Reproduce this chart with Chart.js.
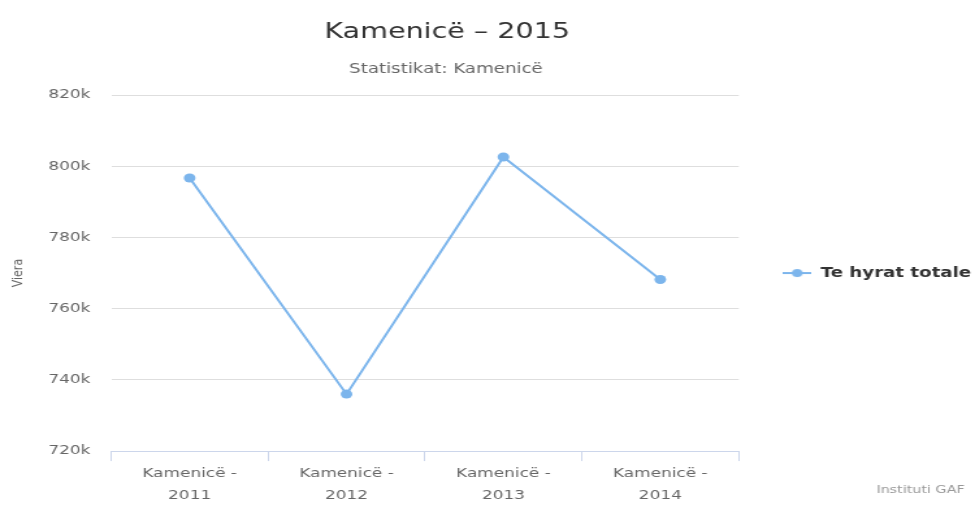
<!DOCTYPE html>
<html>
<head>
<meta charset="utf-8">
<title>Kamenicë – 2015</title>
<script src="https://cdn.jsdelivr.net/npm/chart.js@4/dist/chart.umd.min.js"></script>
<style>
  html, body { margin: 0; padding: 0; background: #fff; overflow: hidden; }
  /* the reference is stretched sideways, so draw narrow and scale out */
  #wrap { width: 749px; height: 518px; transform: scaleX(1.3); transform-origin: 0 0; }
</style>
</head>
<body>
<div id="wrap"><canvas id="chart" width="749" height="518"></canvas></div>
<script>
  // Data
  const categories = [["Kamenicë -", "2011"], ["Kamenicë -", "2012"], ["Kamenicë -", "2013"], ["Kamenicë -", "2014"]];
  const totalIncome = [796700, 736000, 802600, 768200];
  const yTicks = [720000, 740000, 760000, 780000, 800000, 820000];

  const seriesName = "Te hyrat totale";
  const chartTitle = "Kamenicë – 2015";
  const chartSubtitle = "Statistikat: Kamenicë";
  const creditText = "Instituti GAF";

  const FONT = '"DejaVu Sans", "Lucida Grande", Arial, sans-serif';
  const blue = "#7cb5ec";

  // legend symbol: short line with a dot, like Highcharts
  function legendSymbol() {
    const c = document.createElement("canvas");
    c.width = 22; c.height = 12;
    const g = c.getContext("2d");
    g.strokeStyle = blue; g.lineWidth = 2;
    g.beginPath(); g.moveTo(0, 6); g.lineTo(22, 6); g.stroke();
    g.fillStyle = blue;
    g.beginPath(); g.arc(11, 6, 4, 0, Math.PI * 2); g.fill();
    return c;
  }

  // titles and credits drawn at fixed spots
  const headerPlugin = {
    id: "header",
    afterDraw(chart) {
      const ctx = chart.ctx;
      ctx.save();
      ctx.textAlign = "center";
      ctx.textBaseline = "alphabetic";
      ctx.fillStyle = "#333333";
      ctx.font = "22px " + FONT;
      ctx.fillText(chartTitle, 344, 38);
      ctx.fillStyle = "#666666";
      ctx.font = "14px " + FONT;
      ctx.fillText(chartSubtitle, 343, 73);
      ctx.textAlign = "right";
      ctx.fillStyle = "#999999";
      ctx.font = "11px " + FONT;
      ctx.fillText(creditText, 742, 493);
      ctx.restore();
    }
  };

  new Chart(document.getElementById("chart"), {
    type: "line",
    data: {
      labels: categories,
      datasets: [{
        label: seriesName,
        data: totalIncome,
        borderColor: blue,
        backgroundColor: blue,
        borderWidth: 2,
        pointRadius: 4.5,
        pointHoverRadius: 5,
        pointBorderWidth: 0,
        pointStyle: "circle",
        tension: 0,
        fill: false
      }]
    },
    plugins: [headerPlugin],
    options: {
      responsive: false,
      animation: false,
      devicePixelRatio: 1,
      layout: { padding: { top: 95, bottom: 10, left: 8, right: -6 } },
      plugins: {
        title: { display: false },
        tooltip: { enabled: false },
        legend: {
          position: "right",
          fullSize: false,
          labels: {
            usePointStyle: true,
            pointStyleWidth: 22,
            color: "#333333",
            font: { family: FONT, size: 14, weight: "bold" },
            padding: 34,
            generateLabels(chart) {
              const items = Chart.defaults.plugins.legend.labels.generateLabels(chart);
              items.forEach((it) => { it.pointStyle = legendSymbol(); });
              return items;
            }
          }
        }
      },
      scales: {
        x: {
          offset: true,
          grid: { display: true, offset: true, drawOnChartArea: false, drawTicks: true, tickLength: 10, color: "#ccd6eb" },
          border: { display: true, color: "#ccd6eb" },
          ticks: {
            color: "#666666",
            font: { family: FONT, size: 13, lineHeight: 1.65 },
            padding: 2,
            maxRotation: 0
          }
        },
        y: {
          min: 720000,
          max: 820000,
          afterBuildTicks(axis) { axis.ticks = yTicks.map((v) => ({ value: v })); },
          grid: { color: "#dedede", drawTicks: false },
          border: { display: false },
          title: {
            display: true,
            text: "Viera",
            color: "#666666",
            font: { family: FONT, size: 11 },
            padding: { top: 0, bottom: 0 }
          },
          ticks: {
            color: "#666666",
            font: { family: FONT, size: 13 },
            padding: 16,
            callback: (v) => (v / 1000) + "k"
          }
        }
      }
    }
  });
</script>
</body>
</html>
